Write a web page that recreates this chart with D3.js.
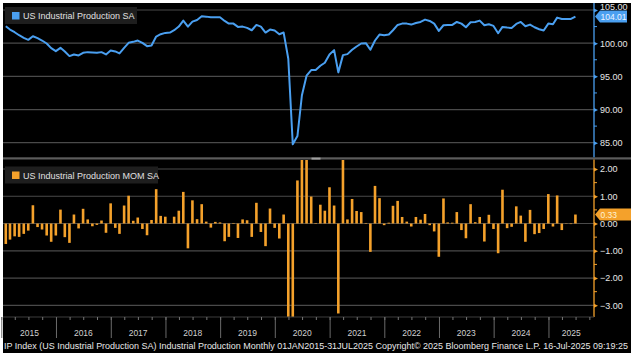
<!DOCTYPE html>
<html>
<head>
<meta charset="utf-8">
<script src="https://cdn.jsdelivr.net/npm/d3@7"></script>
<style>
  body { margin: 0; background: #fff; }
  svg { display: block; font-family: "Liberation Sans", Arial, sans-serif; }
</style>
</head>
<body>
<svg id="chart" width="631" height="353"></svg>
<script>
// monthly data, Jan 2015 .. Jun 2025
const startYear = 2015
const ipLevel = [
  102.55, 102.05, 101.65, 101.2, 100.8, 100.5, 101.05, 100.75, 100.4, 99.95, 99.25, 98.8,
  99.3, 98.75, 98.05, 98.3, 98.15, 98.55, 98.65, 98.6, 98.55, 98.65, 98.3, 98.9,
  98.75, 98.45, 99.3, 100.05, 100.2, 100.4, 100.05, 99.55, 99.65, 101.0, 101.35, 101.55,
  101.6, 101.95, 102.5, 103.4, 102.5, 103.25, 103.5, 104.05, 104.0, 103.9, 103.9, 103.9,
  103.35, 102.95, 102.95, 102.45, 102.5, 102.3, 101.95, 102.75, 102.5, 101.6, 102.05, 101.9,
  101.35, 101.6, 97.65, 84.75, 86.0, 92.15, 95.1, 95.95, 95.95, 96.6, 97.05, 98.3,
  98.95, 95.6, 98.2, 98.35, 99.0, 99.5, 99.95, 100.0, 99.0, 100.4, 101.3, 101.2,
  101.3, 101.95, 102.75, 102.95, 102.95, 102.8, 103.05, 103.2, 103.55, 103.35, 102.95, 101.85,
  102.7, 102.75, 102.75, 103.2, 102.95, 102.4, 103.15, 103.2, 103.4, 102.7, 102.85, 102.6,
  101.5, 102.45, 102.35, 102.3, 102.9, 103.2, 102.55, 102.8, 102.4, 102.1, 101.9, 102.95,
  102.85, 103.85, 103.65, 103.65, 103.65, 104.01
]
const ipMom = [
  -0.75, -0.59, -0.47, -0.49, -0.38, -0.26, 0.67, -0.13, -0.22, -0.44, -0.67, -0.44,
  0.51, -0.50, -0.71, 0.33, -0.18, 0.54, 0.15, -0.10, -0.05, 0.11, -0.34, 0.74,
  -0.16, -0.38, 0.66, 1.02, 0.10, 0.22, -0.20, -0.43, 0.13, 1.26, 0.28, 0.25,
  0.01, 0.25, 0.47, 1.16, -0.91, 0.85, 0.16, 0.71, 0.07, -0.15, 0.06, 0.04,
  -0.65, -0.49, 0.02, -0.53, 0.15, 0.12, -0.49, 0.76, -0.31, -0.83, 0.55, -0.16,
  -0.55, 0.33, -4.3, -13.0, 1.58, 7.0, 3.4, 0.99, 0.02, 0.69, 0.47, 1.33,
  0.66, -3.3, 2.8, 0.15, 0.90, 0.46, 0.42, 0.02, -1.04, 1.38, 0.93, -0.06,
  0.03, 0.65, 0.83, 0.24, 0.07, -0.11, 0.24, 0.14, 0.35, -0.06, -0.29, -1.22,
  0.92, 0.04, 0.03, 0.42, -0.24, -0.54, 0.71, 0.05, 0.24, -0.66, 0.32, -0.20,
  -1.09, 1.24, -0.17, -0.12, 0.63, 0.29, -0.67, 0.50, -0.39, -0.35, -0.20, 1.08,
  -0.11, 1.03, -0.24, 0.01, -0.02, 0.33
]
const levelTicks = [85, 90, 95, 100, 105]
const momTicks = [-3, -2, -1, 0, 1, 2]
const yearLabels = ['2015','2016','2017','2018','2019','2020','2021','2022','2023','2024','2025']
const topLegend = 'US Industrial Production SA'
const botLegend = 'US Industrial Production MOM SA'
const footer = 'IP Index (US Industrial Production SA) Industrial Production  Monthly 01JAN2015-31JUL2025 Copyright\u00a9 2025 Bloomberg Finance L.P.  16-Jul-2025 09:19:25'

const blue = '#4a9ff0'
const orange = '#f4a12b'
const gridCol = '#4a4a4a'

const svg = d3.select('#chart')
const dates = ipLevel.map((d, i) => new Date(startYear, i + 1, 0))

const left = 3, right = 594
const topPanel = { y0: 3, y1: 157.5 }
const botPanel = { y0: 160, y1: 317 }

const xScale = d3.scaleTime()
  .domain([new Date(2015, 0, 1), new Date(2025, 10, 1)])
  .range([1.3, right])

const yTop = d3.scaleLinear().domain([85, 105]).range([142.7, 10])
const yBot = d3.scaleLinear().domain([-3, 2]).range([305.3, 169])

// background
svg.append('rect').attr('x', 3).attr('y', 3).attr('width', 628).attr('height', 350).attr('fill', '#000')

const defs = svg.append('defs')
defs.append('clipPath').attr('id', 'clipTop').append('rect')
  .attr('x', left).attr('y', topPanel.y0).attr('width', right - left).attr('height', topPanel.y1 - topPanel.y0)
defs.append('clipPath').attr('id', 'clipBot').append('rect')
  .attr('x', left).attr('y', botPanel.y0).attr('width', right - left).attr('height', botPanel.y1 - botPanel.y0)

// ---- top panel
const gTop = svg.append('g')
gTop.selectAll('.grid').data(levelTicks).enter().append('line')
  .attr('x1', left).attr('x2', right)
  .attr('y1', d => yTop(d)).attr('y2', d => yTop(d))
  .attr('stroke', gridCol).attr('stroke-width', 1.2)

const line = d3.line()
  .x((d, i) => xScale(dates[i]))
  .y(d => yTop(d))

gTop.append('path')
  .attr('clip-path', 'url(#clipTop)')
  .attr('d', line(ipLevel))
  .attr('fill', 'none').attr('stroke', blue).attr('stroke-width', 2)
  .attr('stroke-linejoin', 'round')

// ---- bottom panel
const gBot = svg.append('g')
gBot.selectAll('.grid').data(momTicks).enter().append('line')
  .attr('x1', left).attr('x2', right)
  .attr('y1', d => yBot(d)).attr('y2', d => yBot(d))
  .attr('stroke', gridCol).attr('stroke-width', 1.2)

const barW = 2.6
gBot.append('g').attr('clip-path', 'url(#clipBot)')
  .selectAll('rect').data(ipMom).enter().append('rect')
  .attr('x', (d, i) => xScale(dates[i]) - barW / 2)
  .attr('width', barW)
  .attr('y', d => yBot(Math.max(0, d)))
  .attr('height', d => Math.abs(yBot(d) - yBot(0)))
  .attr('fill', orange)

// separator between panels
svg.append('rect').attr('x', 3).attr('y', 157.3).attr('width', 628).attr('height', 2.2).attr('fill', '#5c5c5c')
svg.append('rect').attr('x', 311.5).attr('y', 157.6).attr('width', 9).attr('height', 2).attr('fill', '#a0a0a0')

// ---- right axes
const drawAxis = (scale, ticks, minor, col, y0, y1, fmt) => {
  const g = svg.append('g').attr('transform', `translate(${right},0)`)
  g.append('line').attr('x1', 0).attr('x2', 0).attr('y1', y0).attr('y2', y1)
    .attr('stroke', col).attr('stroke-width', 1.3)
  const axis = d3.axisRight(scale).tickValues(ticks).tickSize(0).tickPadding(6).tickFormat(fmt)
  const ag = g.append('g').call(axis)
  ag.select('.domain').remove()
  ag.selectAll('text').attr('fill', '#e6e6e6').attr('font-size', 9)
    .attr('font-family', '"Liberation Sans", Arial, sans-serif')
  ag.selectAll('.tick').append('path').attr('d', 'M0,-2L4,0L0,2Z').attr('fill', col)
  g.selectAll('.minor').data(minor).enter().append('line')
    .attr('x1', 0).attr('x2', 3)
    .attr('y1', d => scale(d)).attr('y2', d => scale(d))
    .attr('stroke', col).attr('stroke-width', 1)
  return ag
}
const topAxis = drawAxis(yTop, levelTicks, [87.5, 92.5, 97.5, 102.5], blue, 3, 157.3, d3.format('.2f'))
drawAxis(yBot, momTicks, [-2.5, -1.5, -0.5, 0.5, 1.5], orange, 159.5, 317, d3.format('.2f'))
// top label sits partly behind the value badge, lift it a little
topAxis.selectAll('.tick').filter(d => d === 105).select('text').attr('dy', '-0.05em')

// value badges
const badge = (y, txt, col, w, txtCol) => {
  const g = svg.append('g').attr('transform', `translate(${right + 1},${y})`)
  g.append('path')
    .attr('d', `M0,0L5,-6L${w},-6L${w},6L5,6Z`)
    .attr('fill', col)
  g.append('text').attr('x', 5.5).attr('y', 3).attr('font-size', 8.5).attr('fill', txtCol).text(txt)
}
badge(yTop(ipLevel[ipLevel.length - 1]), d3.format('.2f')(ipLevel[ipLevel.length - 1]), blue, 32, '#eaf4ff')
badge(yBot(ipMom[ipMom.length - 1]), d3.format('.2f')(ipMom[ipMom.length - 1]), orange, 36, '#fff3d6')

// ---- legends
const legend = (y, w, txt, col) => {
  svg.append('rect').attr('x', 5).attr('y', y).attr('width', w).attr('height', 17).attr('fill', '#1e1e1e')
  svg.append('rect').attr('x', 12).attr('y', y + 5).attr('width', 7.5).attr('height', 7.5).attr('fill', col)
  svg.append('text').attr('x', 23).attr('y', y + 12.3).attr('font-size', 9).attr('fill', '#e0e0e0').text(txt)
}
legend(7, 132, topLegend, blue)
legend(166.5, 153, botLegend, orange)

// ---- x axis band
const xg = svg.append('g').attr('transform', `translate(0,${botPanel.y1})`)
xg.append('line').attr('x1', left).attr('x2', right).attr('stroke', '#3c3c3c')
const qAxis = d3.axisBottom(xScale).ticks(d3.timeMonth.every(3)).tickSize(3).tickFormat('')
const qg = xg.append('g').call(qAxis)
qg.select('.domain').remove()
qg.selectAll('line').attr('stroke', '#777')
const yAxis = d3.axisBottom(xScale).ticks(d3.timeYear.every(1)).tickSize(21).tickFormat('')
const yg = xg.append('g').call(yAxis)
yg.select('.domain').remove()
yg.selectAll('line').attr('stroke', '#6a6a6a')

xg.selectAll('.yl').data(yearLabels).enter().append('text')
  .attr('x', d => {
    const a = Math.max(left, xScale(new Date(+d, 0, 1)))
    const b = Math.min(right, xScale(new Date(+d + 1, 0, 1)))
    return (a + b) / 2
  })
  .attr('y', 18.5)
  .attr('text-anchor', 'middle')
  .attr('font-size', 8.5).attr('fill', '#d0d0d0')
  .text(d => d)

svg.append('text').attr('x', 4).attr('y', 348.5)
  .attr('font-size', 8.5).attr('fill', '#e8e8e8')
  .attr('textLength', 624).attr('lengthAdjust', 'spacingAndGlyphs')
  .text(footer)
</script>
</body>
</html>
